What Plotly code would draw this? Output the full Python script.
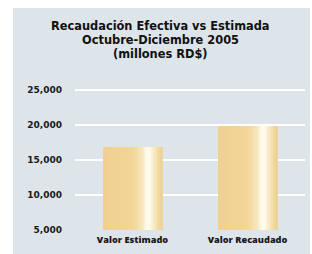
import plotly.graph_objects as go

categories = ["Valor Estimado", "Valor Recaudado"]
values = [16900, 19900]
tick_vals = [5000, 10000, 15000, 20000, 25000]
tick_text = ["5,000", "10,000", "15,000", "20,000", "25,000"]
title_lines = ["Recaudación Efectiva vs Estimada", "Octubre-Diciembre 2005", "(millones RD$)"]

# gradient keypoints across bar width (fraction, rgb)
keys = [(0.0, (240, 208, 142)), (0.5, (242, 214, 152)), (0.62, (245, 224, 175)),
        (0.70, (251, 241, 216)), (0.77, (255, 253, 245)), (0.84, (250, 238, 208)),
        (0.92, (241, 218, 163)), (1.0, (236, 210, 148))]

def col(t):
    for (a, ca), (b, cb) in zip(keys[:-1], keys[1:]):
        if a <= t <= b:
            f = (t - a) / (b - a) if b > a else 0
            c = [round(ca[k] + (cb[k] - ca[k]) * f) for k in range(3)]
            return "rgb(%d,%d,%d)" % tuple(c)
    return "rgb(236,210,148)"

W = 0.52
N = 26
fig = go.Figure()
for i in range(N):
    fig.add_trace(go.Bar(
        x=categories, y=[v - 5000 for v in values], base=5000,
        width=W / N * 1.05, offset=-W / 2 + i * W / N,
        marker=dict(color=col((i + 0.5) / N), line=dict(width=0)),
        hoverinfo="skip", showlegend=False))

PH = 147.0
title_y = [26, 40, 54]
annotations = [dict(text=t, xref="paper", yref="paper", x=(160 - 75) / 230,
                    y=(230 - py) / PH, xanchor="center", yanchor="middle",
                    showarrow=False,
                    font=dict(family="DejaVu Sans", size=11.4, weight="bold", color="#111"))
               for t, py in zip(title_lines, title_y)]

fig.update_layout(
    width=312, height=254,
    margin=dict(l=75, r=7, t=83, b=24),
    paper_bgcolor="white", plot_bgcolor="rgba(0,0,0,0)",
    barmode="overlay", bargap=0,
    showlegend=False, hovermode=False,
    font=dict(family="Open Sans", color="#1a1a1a"),
    annotations=annotations,
    xaxis=dict(range=[-0.5, 1.5], showgrid=False, zeroline=False, showline=False,
               automargin=False, ticks="", ticklabelstandoff=3,
               tickfont=dict(size=9.2, weight=800, color="#1a1a1a")),
    yaxis=dict(range=[5000, 26000], tickvals=tick_vals, ticktext=tick_text,
               showgrid=True, gridcolor="white", gridwidth=1.5, zeroline=False,
               showline=False, ticks="", ticklabelstandoff=12, automargin=False,
               tickfont=dict(family="DejaVu Sans", size=9, weight="bold", color="#1a1a1a")),
    shapes=[dict(type="rect", xref="paper", yref="paper",
                 x0=-62 / 230, x1=1 + 5 / 230, y0=-0.2, y1=1 + 75 / 147,
                 fillcolor="#dde4ea", line=dict(width=0), layer="below")],
)
fig.write_html("out.html", config={"displayModeBar": False, "staticPlot": True},
               post_script="document.body.style.margin='0';document.body.style.overflow='hidden';")
